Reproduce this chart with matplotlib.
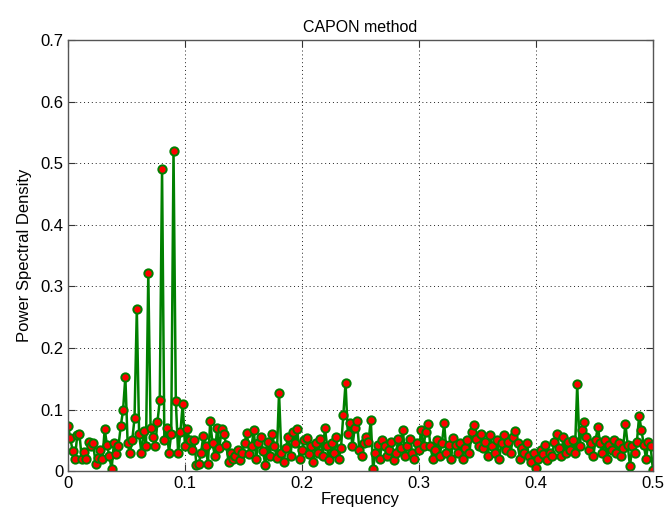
import numpy as np
import matplotlib
matplotlib.use("Agg")
import matplotlib.pyplot as plt

# Power spectral density values, 256 bins from 0 to 0.5
psd = [
    0.073, 0.054, 0.033, 0.019, 0.058, 0.060, 0.020, 0.031, 0.019, 0.047,
    0.041, 0.045, 0.012, 0.021, 0.035, 0.020, 0.068, 0.042, 0.025, 0.003,
    0.045, 0.028, 0.041, 0.073, 0.099, 0.153, 0.045, 0.030, 0.050, 0.086,
    0.263, 0.060, 0.030, 0.065, 0.040, 0.322, 0.070, 0.055, 0.041, 0.080,
    0.115, 0.491, 0.050, 0.070, 0.030, 0.060, 0.520, 0.114, 0.030, 0.063,
    0.109, 0.040, 0.068, 0.050, 0.035, 0.050, 0.010, 0.012, 0.030, 0.057,
    0.040, 0.012, 0.081, 0.045, 0.025, 0.070, 0.038, 0.068, 0.060, 0.042,
    0.015, 0.030, 0.020, 0.025, 0.035, 0.018, 0.030, 0.046, 0.062, 0.028,
    0.040, 0.067, 0.020, 0.045, 0.055, 0.032, 0.010, 0.048, 0.025, 0.060,
    0.040, 0.022, 0.127, 0.030, 0.015, 0.038, 0.055, 0.025, 0.063, 0.045,
    0.068, 0.020, 0.035, 0.050, 0.053, 0.028, 0.040, 0.015, 0.045, 0.030,
    0.052, 0.025, 0.070, 0.040, 0.018, 0.045, 0.030, 0.055, 0.020, 0.037,
    0.091, 0.143, 0.060, 0.078, 0.040, 0.070, 0.081, 0.035, 0.025, 0.045,
    0.056, 0.048, 0.083, 0.003, 0.030, 0.042, 0.020, 0.050, 0.040, 0.025,
    0.035, 0.048, 0.018, 0.030, 0.052, 0.038, 0.066, 0.025, 0.040, 0.052,
    0.030, 0.020, 0.045, 0.035, 0.067, 0.040, 0.064, 0.076, 0.040, 0.020,
    0.035, 0.050, 0.025, 0.045, 0.078, 0.030, 0.042, 0.020, 0.053, 0.042,
    0.030, 0.045, 0.020, 0.038, 0.050, 0.030, 0.063, 0.075, 0.052, 0.040,
    0.060, 0.038, 0.048, 0.025, 0.058, 0.040, 0.030, 0.050, 0.020, 0.045,
    0.058, 0.035, 0.048, 0.030, 0.056, 0.065, 0.045, 0.020, 0.037, 0.030,
    0.045, 0.025, 0.015, 0.030, 0.005, 0.020, 0.035, 0.028, 0.042, 0.018,
    0.030, 0.025, 0.047, 0.060, 0.038, 0.025, 0.055, 0.030, 0.047, 0.035,
    0.050, 0.030, 0.141, 0.040, 0.066, 0.080, 0.055, 0.035, 0.045, 0.025,
    0.050, 0.072, 0.045, 0.030, 0.050, 0.020, 0.043, 0.035, 0.050, 0.030,
    0.045, 0.025, 0.038, 0.077, 0.043, 0.008, 0.040, 0.030, 0.047, 0.090,
    0.066, 0.043, 0.020, 0.047, 0.040, 0.002,
]
freq = np.linspace(0.0, 0.5, len(psd))

x_ticks = [0, 0.1, 0.2, 0.3, 0.4, 0.5]
x_labels = ["0", "0.1", "0.2", "0.3", "0.4", "0.5"]
y_ticks = [0, 0.1, 0.2, 0.3, 0.4, 0.5, 0.6, 0.7]
y_labels = ["0", "0.1", "0.2", "0.3", "0.4", "0.5", "0.6", "0.7"]

plt.rcParams['font.family'] = ['Liberation Sans', 'DejaVu Sans']

fig = plt.figure(figsize=(6.7, 5.2), dpi=100)
ax = fig.add_axes([0.1015, 0.094, 0.873, 0.829])

ax.plot(freq, psd, '-', color='#008000', linewidth=1.8,
        marker='o', markersize=6, markerfacecolor='#ff0000',
        markeredgecolor='#008000', markeredgewidth=1.4)

ax.set_xlim(0, 0.5)
ax.set_ylim(0, 0.7)
ax.set_xticks(x_ticks)
ax.set_xticklabels(x_labels)
ax.set_yticks(y_ticks)
ax.set_yticklabels(y_labels)
ax.tick_params(direction='in', length=5, labelsize=12, top=True, right=True,
               color='#333333')
ax.grid(True, linestyle=(0, (1, 3)), color='#222222', linewidth=0.7)
for s in ax.spines.values():
    s.set_color('#555555')
    s.set_linewidth(1.0)

ax.set_title("CAPON method", fontsize=11.5)
ax.set_xlabel("Frequency", fontsize=12, labelpad=1)
ax.set_ylabel("Power Spectral Density", fontsize=12, labelpad=6)

fig.savefig("out.png", dpi=100)
